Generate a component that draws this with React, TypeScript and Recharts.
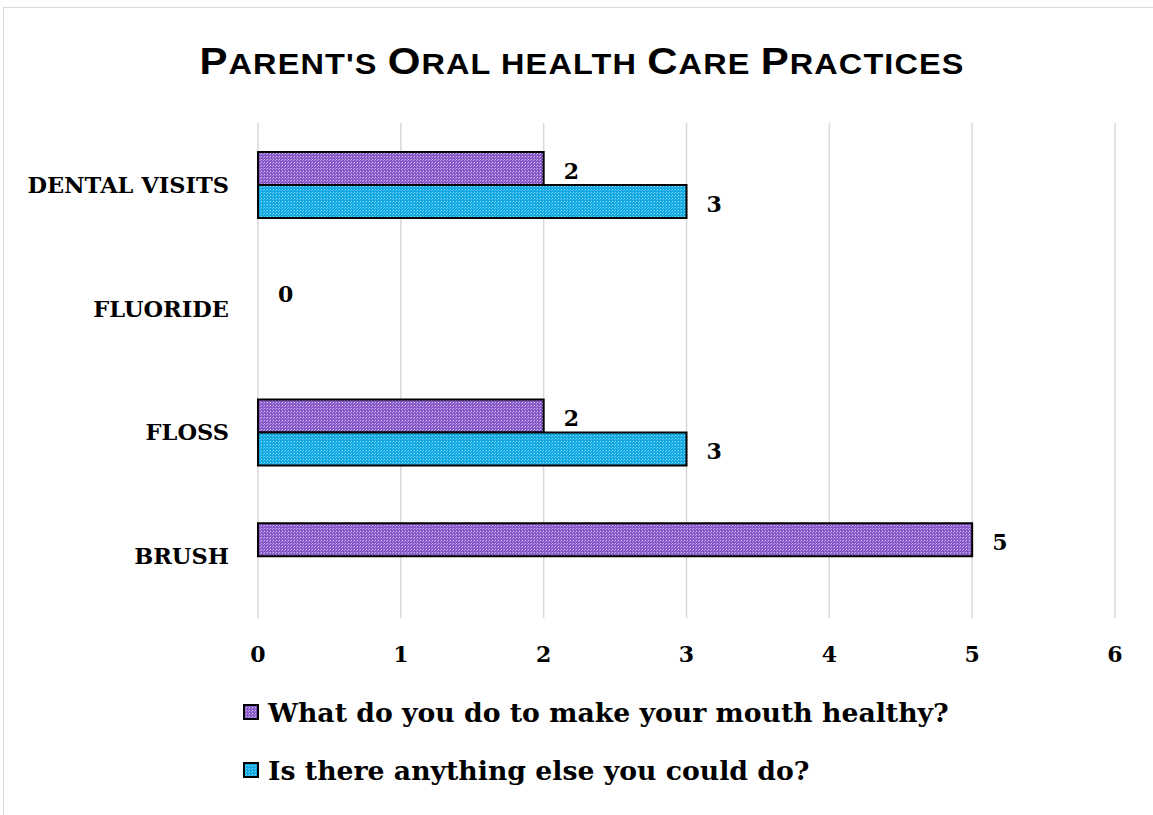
import React from "react";
import { Bar, BarChart, CartesianGrid, XAxis, YAxis } from "recharts";

const categories = ["DENTAL VISITS", "FLUORIDE", "FLOSS", "BRUSH"];
const doNow = [2, 0, 2, 5];
const couldDo = [3, null, 3, null];
const xTicks = [0, 1, 2, 3, 4, 5, 6];

const seriesNames = [
  "What do you do to make your mouth healthy?",
  "Is there anything else you could do?",
];

// title in small caps: [text, isCapital]
const titleParts: [string, boolean][] = [
  ["P", true],
  ["ARENT'S ", false],
  ["O", true],
  ["RAL HEALTH ", false],
  ["C", true],
  ["ARE ", false],
  ["P", true],
  ["RACTICES", false],
];

const data = categories.map((name, i) => ({
  name,
  doNow: doNow[i],
  couldDo: couldDo[i],
}));

const SERIF = '"DejaVu Serif", "Liberation Serif", serif';

const CategoryTick = (props: any) => {
  const { y, payload } = props;
  return (
    <text
      x={229}
      y={y}
      textAnchor="end"
      dominantBaseline="central"
      fontFamily={SERIF}
      fontWeight="bold"
      fontSize={22.5}
      fill="#000"
    >
      {payload.value}
    </text>
  );
};

const ValueTick = (props: any) => {
  const { x, payload } = props;
  return (
    <text
      x={x}
      y={654}
      textAnchor="middle"
      dominantBaseline="central"
      fontFamily={SERIF}
      fontWeight="bold"
      fontSize={22}
      fill="#000"
    >
      {payload.value}
    </text>
  );
};

// bar rectangle plus its value label to the right of the bar end
const LabelledBar = (props: any) => {
  const { x, y, width, height, fill, value } = props;
  const v = Array.isArray(value) ? value[1] - value[0] : value;
  if (v === null || v === undefined) return null;
  return (
    <g>
      {width > 0 && (
        <rect
          x={x}
          y={y}
          width={width}
          height={height}
          fill={fill}
          stroke="#000"
          strokeWidth={2}
        />
      )}
      <text
        x={x + width + 20}
        y={y + height / 2 + 2}
        textAnchor="start"
        dominantBaseline="central"
        fontFamily={SERIF}
        fontWeight="bold"
        fontSize={22}
        fill="#000"
      >
        {v}
      </text>
    </g>
  );
};

const LegendBox = () => (
  <div
    style={{
      position: "absolute",
      left: 243,
      top: 683,
      fontFamily: SERIF,
      fontWeight: "bold",
      fontSize: 26.7,
    }}
  >
    {seriesNames.map((s, i) => (
      <div
        key={s}
        style={{
          display: "flex",
          alignItems: "center",
          height: 58,
          whiteSpace: "nowrap",
        }}
      >
        <svg width={16} height={16} style={{ marginRight: 9 }}>
          <rect
            x={1}
            y={1}
            width={14}
            height={14}
            fill={i === 0 ? "url(#dotsPurple)" : "url(#dotsBlue)"}
            stroke="#000"
            strokeWidth={2}
          />
        </svg>
        <span>{s}</span>
      </div>
    ))}
  </div>
);

export default function App() {
  return (
    <div style={{ position: "absolute", left: 0, top: 0, width: 1153, height: 815 }}>
      <svg width={0} height={0} style={{ position: "absolute" }}>
        <defs>
          <pattern id="dotsPurple" width={3} height={3} patternUnits="userSpaceOnUse">
            <rect width={3} height={3} fill="#8658c8" />
            <rect x={0} y={0} width={1} height={1} fill="#d4c2f0" />
            <rect x={2} y={1} width={1} height={1} fill="#b498e0" />
          </pattern>
          <pattern id="dotsBlue" width={3} height={3} patternUnits="userSpaceOnUse">
            <rect width={3} height={3} fill="#10a8e2" />
            <rect x={0} y={0} width={1} height={1} fill="#8ad8f7" />
            <rect x={2} y={1} width={1} height={1} fill="#5cc6f0" />
          </pattern>
        </defs>
      </svg>
      <div
        style={{
          position: "absolute",
          left: 3,
          top: 7,
          width: 1160,
          height: 820,
          border: "1px solid #d9d9d9",
        }}
      />
      <svg
        width={1153}
        height={100}
        style={{ position: "absolute", left: 0, top: 0 }}
      >
        <g transform="translate(582 0) scale(1.12 1)">
          <text
            x={0}
            y={74}
            textAnchor="middle"
            fontFamily='"Liberation Sans", Arial, sans-serif'
            fontWeight="bold"
            letterSpacing={1}
            fill="#000"
          >
            {titleParts.map(([t, cap], i) => (
              <tspan key={i} fontSize={cap ? 37.5 : 29}>
                {t}
              </tspan>
            ))}
          </text>
        </g>
      </svg>
      <div style={{ position: "absolute", left: 0, top: 0 }}>
        <BarChart
          width={1153}
          height={815}
          data={data}
          layout="vertical"
          margin={{ top: 123, right: 38, bottom: 167, left: 0 }}
          barSize={33}
          barGap={0}
        >
          <CartesianGrid horizontal={false} stroke="#d9d9d9" strokeWidth={1.5} />
          <XAxis
            type="number"
            domain={[0, 6]}
            ticks={xTicks}
            height={30}
            axisLine={false}
            tickLine={false}
            tick={<ValueTick />}
          />
          <YAxis
            type="category"
            dataKey="name"
            width={258}
            axisLine={false}
            tickLine={false}
            tick={<CategoryTick />}
          />
          <Bar
            dataKey="doNow"
            name={seriesNames[0]}
            fill="url(#dotsPurple)"
            shape={<LabelledBar />}
            isAnimationActive={false}
          />
          <Bar
            dataKey="couldDo"
            name={seriesNames[1]}
            fill="url(#dotsBlue)"
            shape={<LabelledBar />}
            isAnimationActive={false}
          />
        </BarChart>
      </div>
      <LegendBox />
    </div>
  );
}
